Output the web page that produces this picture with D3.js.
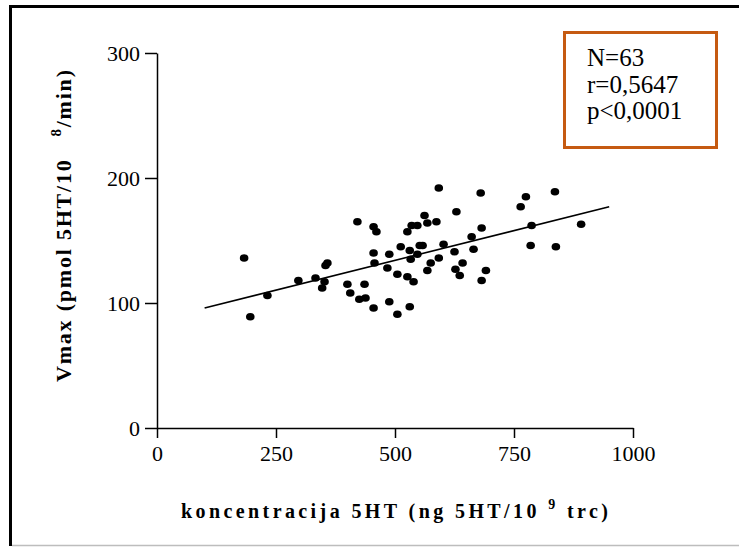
<!DOCTYPE html>
<html>
<head>
<meta charset="utf-8">
<script src="https://cdn.jsdelivr.net/npm/d3@7"></script>
<style>
  body { margin: 0; background: #fff; }
</style>
</head>
<body>
<svg id="chart"></svg>
<script>
const width = 739, height = 547;
const font_family = "'Liberation Serif', 'Times New Roman', serif";
const box_color = "#c55a11";

// data
const concentration = [183,196,232,297,333,352,347,358,354,400,406,436,425,438,455,421,455,461,455,488,
  457,484,505,488,505,512,592,680,562,629,535,547,568,587,526,682,661,531,552,558,
  602,547,533,625,665,592,575,642,568,627,636,691,526,539,682,531,836,775,764,787,891,785,838];
const vmax = [136,89,106,118,120,117,112,132,130,115,108,115,103,104,96,165,161,157,140,139,
  132,128,123,101,91,145,192,188,170,173,162,162,164,165,157,160,153,142,146,146,
  147,139,135,141,143,136,132,132,126,127,122,126,121,117,118,97,189,185,177,162,163,146,145];
const fitX = [100, 950];
const fitY = [96, 177];
const xTicks = [0, 250, 500, 750, 1000];
const yTicks = [0, 100, 200, 300];
const statLines = ["N=63", "r=0,5647", "p<0,0001"];

const svg = d3.select("#chart")
  .attr("width", width)
  .attr("height", height);

svg.append("rect").attr("width", width).attr("height", height).attr("fill", "#fff");

// outer frame (left + top black, bottom grey)
svg.append("line").attr("x1", 10.5).attr("y1", 6).attr("x2", 10.5).attr("y2", 546)
  .attr("stroke", "#000").attr("stroke-width", 3);
svg.append("line").attr("x1", 9).attr("y1", 6.5).attr("x2", width).attr("y2", 6.5)
  .attr("stroke", "#000").attr("stroke-width", 3);
svg.append("line").attr("x1", 12).attr("y1", 545.5).attr("x2", width).attr("y2", 545.5)
  .attr("stroke", "#bdbdbd").attr("stroke-width", 1.5);

const x = d3.scaleLinear().domain([0, 1000]).range([157, 633]);
const y = d3.scaleLinear().domain([0, 300]).range([428, 53]);

////////////////////////////////////
//             Axes               //
////////////////////////////////////

const xAxis = svg.append("g")
  .attr("transform", `translate(0,${y(0)})`)
  .call(d3.axisBottom(x).tickValues(xTicks).tickFormat(d3.format("d"))
    .tickSize(10).tickPadding(7).tickSizeOuter(0));

const yAxis = svg.append("g")
  .attr("transform", `translate(${x(0)},0)`)
  .call(d3.axisLeft(y).tickValues(yTicks).tickFormat(d3.format("d"))
    .tickSize(12).tickPadding(5).tickSizeOuter(0));

[xAxis, yAxis].forEach(g => {
  g.select(".domain").attr("stroke", "#000").attr("stroke-width", 1.5);
  g.selectAll(".tick line").attr("stroke", "#000").attr("stroke-width", 1.5);
  g.selectAll(".tick text")
    .attr("font-family", font_family)
    .attr("font-size", "22px")
    .attr("fill", "#000");
});

////////////////////////////////////
//        Points & Fit line       //
////////////////////////////////////

const points = concentration.map((c, i) => ({ c, v: vmax[i] }));

svg.append("path")
  .datum(fitX.map((d, i) => [d, fitY[i]]))
  .attr("d", d3.line().x(d => x(d[0])).y(d => y(d[1])))
  .attr("fill", "none")
  .attr("stroke", "#000")
  .attr("stroke-width", 1.6);

svg.selectAll("ellipse.dot")
  .data(points)
  .enter()
  .append("ellipse")
  .attr("class", "dot")
  .attr("cx", d => x(d.c))
  .attr("cy", d => y(d.v))
  .attr("rx", 4.3)
  .attr("ry", 3.8)
  .attr("fill", "#000");

////////////////////////////////////
//            Titles              //
////////////////////////////////////

const xTitle = svg.append("text")
  .attr("x", 394.5)
  .attr("y", 518)
  .attr("text-anchor", "middle")
  .attr("font-family", font_family)
  .attr("font-weight", "bold")
  .attr("font-size", "20px")
  .attr("textLength", 427)
  .attr("lengthAdjust", "spacing");
xTitle.append("tspan").text("koncentracija 5HT (ng 5HT/10 ");
xTitle.append("tspan").attr("font-size", "14px").attr("dy", -9).text("9");
xTitle.append("tspan").attr("dy", 9).text(" trc)");

const yTitle = svg.append("text")
  .attr("transform", "translate(71,226) rotate(-90)")
  .attr("text-anchor", "middle")
  .attr("font-family", font_family)
  .attr("font-weight", "bold")
  .attr("font-size", "22px")
  .attr("textLength", 312)
  .attr("lengthAdjust", "spacing");
yTitle.append("tspan").text("Vmax (pmol 5HT/10\u00a0\u00a0\u00a0");
yTitle.append("tspan").attr("font-size", "15px").attr("dy", -10).text("8");
yTitle.append("tspan").attr("dy", 10).text("/min)");

////////////////////////////////////
//           Stats box            //
////////////////////////////////////

svg.append("rect")
  .attr("x", 564.5).attr("y", 32.5)
  .attr("width", 152).attr("height", 115)
  .attr("fill", "#fff")
  .attr("stroke", box_color)
  .attr("stroke-width", 3);

svg.selectAll("text.stat")
  .data(statLines)
  .enter()
  .append("text")
  .attr("class", "stat")
  .attr("x", 587)
  .attr("y", (d, i) => 66 + i * 26.5)
  .attr("font-family", font_family)
  .attr("font-size", "25px")
  .attr("fill", "#000")
  .text(d => d);
</script>
</body>
</html>
